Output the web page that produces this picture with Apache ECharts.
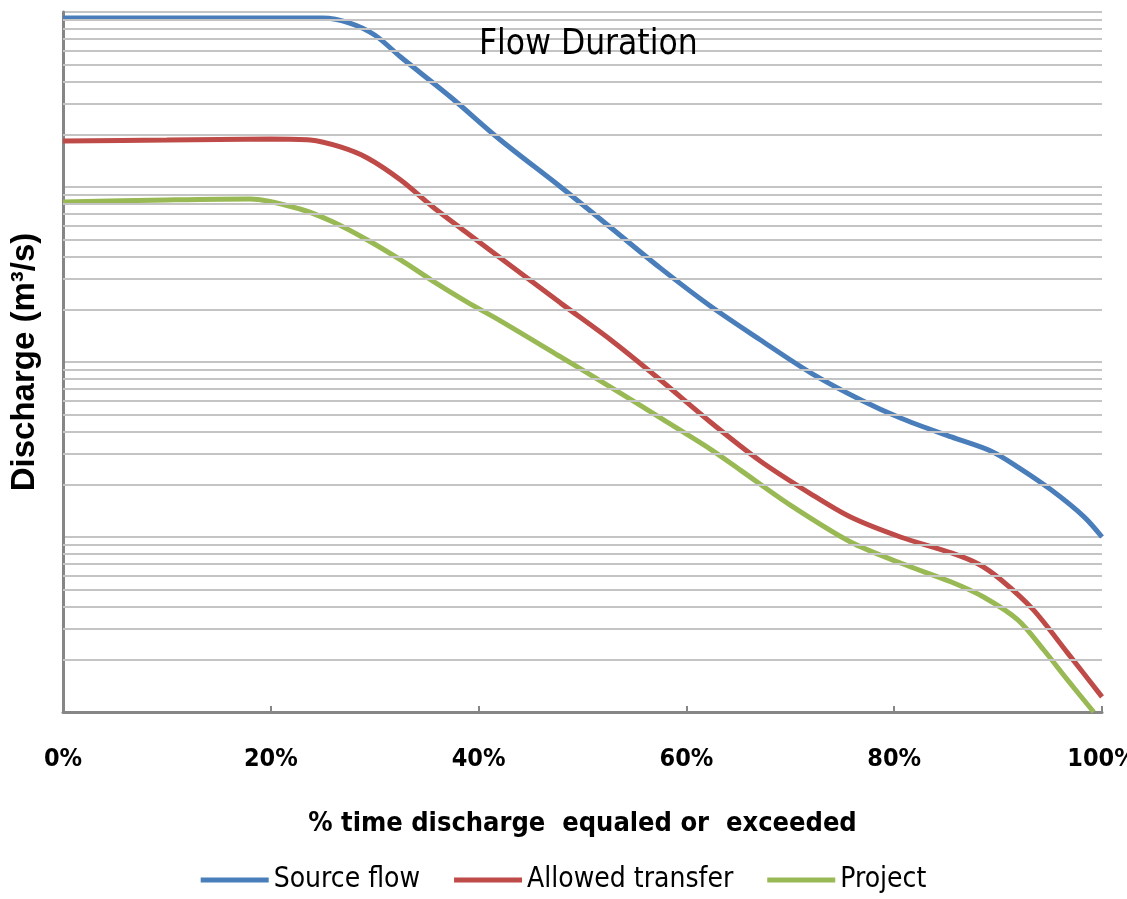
<!DOCTYPE html>
<html>
<head>
<meta charset="utf-8">
<title>Flow Duration</title>
<script src="https://cdn.jsdelivr.net/npm/echarts@6/dist/echarts.min.js"></script>
<style>
  html, body { margin: 0; padding: 0; background: #fff; }
  #chart { width: 1127px; height: 899px; }
</style>
</head>
<body>
<div id="chart"></div>
<script>
const sourcePct = [0, 10, 20, 25, 27.6, 30, 32.5, 37.3, 42.1, 47.9, 53, 57.5, 62.3, 67.1, 72, 76.8, 80.6, 85.5, 89.3, 91.9, 95.1, 98.3, 100];
const sourceFlow = [9240, 9240, 9240, 9240, 8650, 7390, 5530, 3270, 1856, 1000, 568, 344, 209, 134, 86.5, 60.7, 47.9, 37.3, 31.0, 25.1, 18.6, 13.0, 10.0];

const allowedPct = [0, 10, 20, 23.8, 26.7, 29.3, 32.5, 35.6, 38.9, 42.1, 47.9, 52.7, 57.5, 62.3, 67.1, 72, 75.8, 80.6, 85.5, 88.1, 90.3, 93.4, 96.7, 100];
const allowedTransfer = [1832, 1856, 1880, 1856, 1693, 1464, 1096, 769, 546, 393, 217, 134, 78.9, 45.4, 27.2, 17.6, 13.0, 10.0, 8.11, 7.01, 5.68, 3.83, 2.17, 1.22];

const projectPct = [0, 10, 18, 22.8, 26, 29.3, 32.5, 35.6, 38.9, 42.1, 47.9, 52.7, 57.5, 62.3, 65.2, 70, 75.8, 80.6, 85.5, 88.6, 91.9, 94.4, 96.7, 99.2];
const projectFlow = [821, 843, 854, 749, 631, 498, 383, 290, 220, 172, 107, 71.9, 47.9, 31.8, 24.1, 15.2, 9.36, 7.10, 5.53, 4.54, 3.36, 2.26, 1.52, 1.0];

const xTicks = [0, 20, 40, 60, 80, 100];
// log grid: 1 .. 10000, lines at 2..9 of each decade
const minorGrid = [];
[1, 10, 100, 1000].forEach(d => {
  for (let k = 2; k <= 9; k++) minorGrid.push(k * d);
});

const pairs = (xs, ys) => xs.map((x, i) => [x, ys[i]]);

const chart = echarts.init(document.getElementById('chart'));

const narrow = '"Liberation Sans Narrow", "Arial Narrow", "DejaVu Sans Condensed", sans-serif';
const gridColor = '#c4c4c4';
const axisColor = '#868686';

const lineSeries = (name, color, data) => ({
  name: name,
  type: 'line',
  smooth: 0.3,
  symbol: 'none',
  z: 3,
  lineStyle: { color: color, width: 5 },
  itemStyle: { color: color },
  data: data
});

const option = {
  backgroundColor: '#fff',
  animation: false,
  title: {
    text: 'Flow Duration',
    left: 474,
    top: 22,
    textStyle: { fontFamily: narrow, fontSize: 35, fontWeight: 'normal', color: '#000' }
  },
  grid: { left: 63, right: 25, top: 12, bottom: 187, containLabel: false, outerBoundsMode: 'none' },
  legend: {
    bottom: 0,
    left: 'center',
    data: ['Source flow', 'Allowed transfer', 'Project'],
    icon: 'rect',
    itemWidth: 68,
    itemHeight: 5,
    itemGap: 34,
    textStyle: { fontFamily: narrow, fontSize: 28, color: '#000' }
  },
  xAxis: {
    type: 'value',
    min: 0,
    max: 100,
    interval: 20,
    name: '% time discharge  equaled or  exceeded',
    nameLocation: 'middle',
    nameGap: 98,
    nameTextStyle: { fontFamily: narrow, fontSize: 27, fontWeight: 'bold', color: '#000' },
    axisLine: { lineStyle: { color: axisColor, width: 3 } },
    axisTick: { inside: true, length: 6, lineStyle: { color: axisColor, width: 2 } },
    axisLabel: {
      margin: 35,
      fontFamily: narrow,
      fontSize: 25,
      fontWeight: 'bold',
      color: '#000',
      formatter: v => xTicks.includes(v) ? v + '%' : ''
    },
    splitLine: { show: false }
  },
  yAxis: {
    type: 'log',
    logBase: 10,
    min: 1,
    max: 10000,
    name: 'Discharge (m³/s)',
    nameLocation: 'middle',
    nameRotate: 90,
    nameGap: 22,
    nameTextStyle: { fontFamily: '"Liberation Sans", Arial, sans-serif', fontSize: 33, fontWeight: 'bold', color: '#000' },
    axisLine: { show: true, lineStyle: { color: axisColor, width: 3 } },
    axisTick: { show: false },
    axisLabel: { show: false },
    splitLine: { show: true, lineStyle: { color: gridColor, width: 2 } }
  },
  series: [
    {
      name: 'grid',
      type: 'line',
      data: [],
      z: 1,
      silent: true,
      markLine: {
        silent: true,
        symbol: ['none', 'none'],
        label: { show: false },
        lineStyle: { color: gridColor, width: 2, type: 'solid' },
        emphasis: { disabled: true },
        data: minorGrid.map(v => ({ yAxis: v }))
      }
    },
    lineSeries('Source flow', '#4a7ebb', pairs(sourcePct, sourceFlow)),
    lineSeries('Allowed transfer', '#be4b48', pairs(allowedPct, allowedTransfer)),
    lineSeries('Project', '#98b954', pairs(projectPct, projectFlow))
  ]
};

chart.setOption(option);
</script>
</body>
</html>
